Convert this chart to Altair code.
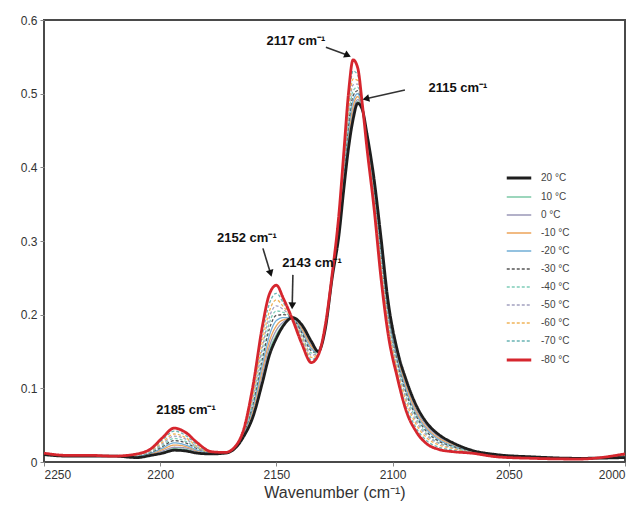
import altair as alt
import pandas as pd

# ---------------- data ----------------
wavenumber = [2250, 2240, 2230, 2220, 2210, 2204, 2199, 2194, 2189, 2184,
              2178, 2172, 2168, 2164, 2160, 2156, 2153, 2150, 2147, 2143,
              2139, 2135, 2132, 2129, 2126, 2123, 2121, 2119, 2117, 2115,
              2113, 2111, 2108, 2105, 2102, 2098, 2094, 2090, 2085, 2080,
              2074, 2066, 2055, 2040, 2020, 2000]

t_p20 = [0.010, 0.008, 0.008, 0.008, 0.006, 0.009, 0.012, 0.016, 0.015, 0.012,
         0.011, 0.012, 0.018, 0.035, 0.062, 0.108, 0.145, 0.168, 0.185, 0.196,
         0.186, 0.164, 0.150, 0.180, 0.250, 0.310, 0.370, 0.425, 0.465, 0.487,
         0.478, 0.445, 0.385, 0.305, 0.220, 0.152, 0.110, 0.078, 0.052, 0.037,
         0.026, 0.016, 0.010, 0.007, 0.005, 0.006]
t_p10 = [0.010, 0.008, 0.008, 0.008, 0.007, 0.010, 0.013, 0.018, 0.017, 0.013,
         0.011, 0.012, 0.018, 0.036, 0.065, 0.113, 0.151, 0.173, 0.187, 0.196,
         0.184, 0.162, 0.150, 0.180, 0.250, 0.312, 0.373, 0.430, 0.470, 0.489,
         0.478, 0.444, 0.382, 0.301, 0.217, 0.149, 0.107, 0.075, 0.050, 0.035,
         0.025, 0.016, 0.010, 0.007, 0.005, 0.007]
t_0 = [0.011, 0.008, 0.008, 0.008, 0.007, 0.011, 0.015, 0.020, 0.019, 0.014,
       0.012, 0.012, 0.018, 0.037, 0.068, 0.119, 0.157, 0.179, 0.190, 0.196,
       0.182, 0.159, 0.150, 0.181, 0.251, 0.314, 0.377, 0.436, 0.476, 0.492,
       0.479, 0.442, 0.379, 0.297, 0.213, 0.146, 0.103, 0.072, 0.048, 0.034,
       0.024, 0.015, 0.010, 0.007, 0.005, 0.007]
t_m10 = [0.010, 0.009, 0.008, 0.008, 0.008, 0.011, 0.017, 0.023, 0.021, 0.015,
         0.012, 0.012, 0.019, 0.038, 0.072, 0.126, 0.164, 0.185, 0.193, 0.195,
         0.180, 0.157, 0.149, 0.181, 0.251, 0.317, 0.382, 0.443, 0.483, 0.496,
         0.479, 0.441, 0.376, 0.292, 0.209, 0.143, 0.100, 0.069, 0.045, 0.032,
         0.023, 0.015, 0.009, 0.006, 0.005, 0.008]
t_m20 = [0.011, 0.008, 0.009, 0.008, 0.008, 0.012, 0.019, 0.026, 0.023, 0.016,
         0.012, 0.013, 0.019, 0.039, 0.076, 0.133, 0.172, 0.192, 0.196, 0.195,
         0.177, 0.154, 0.149, 0.182, 0.252, 0.320, 0.387, 0.450, 0.490, 0.500,
         0.480, 0.439, 0.372, 0.287, 0.205, 0.140, 0.096, 0.066, 0.043, 0.030,
         0.022, 0.015, 0.009, 0.006, 0.005, 0.008]
t_m30 = [0.011, 0.009, 0.008, 0.008, 0.009, 0.013, 0.021, 0.029, 0.026, 0.018,
         0.013, 0.012, 0.019, 0.040, 0.080, 0.141, 0.181, 0.199, 0.200, 0.195,
         0.175, 0.151, 0.148, 0.182, 0.252, 0.323, 0.392, 0.457, 0.497, 0.504,
         0.481, 0.437, 0.368, 0.281, 0.201, 0.136, 0.092, 0.063, 0.040, 0.028,
         0.021, 0.014, 0.009, 0.006, 0.005, 0.009]
t_m40 = [0.011, 0.009, 0.009, 0.008, 0.009, 0.014, 0.023, 0.032, 0.028, 0.019,
         0.013, 0.013, 0.019, 0.041, 0.084, 0.148, 0.189, 0.205, 0.203, 0.195,
         0.172, 0.148, 0.148, 0.183, 0.253, 0.326, 0.396, 0.464, 0.504, 0.509,
         0.481, 0.435, 0.364, 0.276, 0.197, 0.132, 0.088, 0.060, 0.037, 0.026,
         0.020, 0.014, 0.009, 0.006, 0.004, 0.009]
t_m50 = [0.012, 0.009, 0.009, 0.008, 0.010, 0.015, 0.025, 0.035, 0.031, 0.020,
         0.013, 0.013, 0.020, 0.042, 0.089, 0.156, 0.197, 0.212, 0.207, 0.194,
         0.170, 0.145, 0.147, 0.183, 0.253, 0.329, 0.401, 0.471, 0.512, 0.513,
         0.482, 0.433, 0.360, 0.271, 0.193, 0.129, 0.084, 0.056, 0.035, 0.025,
         0.019, 0.013, 0.008, 0.006, 0.004, 0.010]
t_m60 = [0.011, 0.009, 0.009, 0.008, 0.010, 0.016, 0.027, 0.038, 0.033, 0.021,
         0.013, 0.013, 0.020, 0.043, 0.093, 0.164, 0.205, 0.220, 0.211, 0.194,
         0.167, 0.142, 0.147, 0.184, 0.254, 0.332, 0.406, 0.478, 0.520, 0.518,
         0.483, 0.431, 0.356, 0.265, 0.188, 0.125, 0.080, 0.052, 0.032, 0.023,
         0.018, 0.013, 0.008, 0.005, 0.004, 0.010]
t_m70 = [0.012, 0.009, 0.009, 0.008, 0.011, 0.017, 0.030, 0.042, 0.036, 0.023,
         0.014, 0.013, 0.020, 0.044, 0.099, 0.174, 0.215, 0.229, 0.216, 0.194,
         0.164, 0.139, 0.146, 0.184, 0.254, 0.336, 0.413, 0.488, 0.531, 0.525,
         0.484, 0.428, 0.351, 0.258, 0.182, 0.120, 0.074, 0.047, 0.028, 0.020,
         0.016, 0.013, 0.008, 0.005, 0.004, 0.011]
t_m80 = [0.012, 0.009, 0.009, 0.008, 0.011, 0.018, 0.033, 0.046, 0.040, 0.026,
         0.014, 0.013, 0.020, 0.045, 0.105, 0.185, 0.228, 0.240, 0.222, 0.193,
         0.160, 0.135, 0.145, 0.185, 0.255, 0.340, 0.420, 0.500, 0.546, 0.535,
         0.485, 0.425, 0.345, 0.250, 0.175, 0.115, 0.068, 0.042, 0.024, 0.017,
         0.014, 0.012, 0.007, 0.005, 0.004, 0.011]

temps = ["20 °C", "10 °C", "0 °C", "-10 °C", "-20 °C", "-30 °C",
         "-40 °C", "-50 °C", "-60 °C", "-70 °C", "-80 °C"]
series = [t_p20, t_p10, t_0, t_m10, t_m20, t_m30, t_m40, t_m50, t_m60, t_m70, t_m80]

# annotations (data units)
ann_text = ["2117 cm⁻¹", "2115 cm⁻¹", "2152 cm⁻¹", "2143 cm⁻¹", "2185 cm⁻¹"]
ann_x = [2141.6, 2071.9, 2162.7, 2134.7, 2188.9]
ann_y = [0.571, 0.508, 0.304, 0.270, 0.071]

arr_x1 = [2128.7, 2094.7, 2155.8, 2142.9]
arr_y1 = [0.563, 0.505, 0.290, 0.254]
arr_x2 = [2119.3, 2111.5, 2152.5, 2143.2]
arr_y2 = [0.552, 0.493, 0.256, 0.212]
arr_angle = [25, 167, 74, 92]

# ---------------- styles ----------------
colors = ["#1e1e1e", "#7cc9a6", "#9a98b8", "#eda45a", "#72aed6", "#555555",
          "#7fcdb8", "#a3a1c0", "#f0b45a", "#6ab4b4", "#d6262e"]
dashes = [[1, 0], [1, 0], [1, 0], [1, 0], [1, 0], [3, 2],
          [3, 2], [3, 2], [3, 2], [3, 2], [1, 0]]
widths = [2.8, 1.3, 1.3, 1.3, 1.3, 1.3, 1.3, 1.3, 1.3, 1.3, 2.8]

rows = []
for t, vals in zip(temps, series):
    for w, v in zip(wavenumber, vals):
        rows.append({"wn": w, "a": v, "temp": t})
df = pd.DataFrame(rows)

xenc = alt.X("wn:Q", title="Wavenumber (cm⁻¹)",
             scale=alt.Scale(domain=[2000, 2250], reverse=True, nice=False, zero=False),
             axis=alt.Axis(values=[2250, 2200, 2150, 2100, 2050, 2000], format="d"))
yenc = alt.Y("a:Q", title=None,
             scale=alt.Scale(domain=[0, 0.6], nice=False),
             axis=alt.Axis(values=[0, 0.1, 0.2, 0.3, 0.4, 0.5, 0.6], format="~g"))

enc = dict(
    x=xenc, y=yenc,
    color=alt.Color("temp:N", title=None, scale=alt.Scale(domain=temps, range=colors)),
    strokeDash=alt.StrokeDash("temp:N", title=None, scale=alt.Scale(domain=temps, range=dashes)),
    strokeWidth=alt.StrokeWidth("temp:N", title=None,
                                scale=alt.Scale(type="ordinal", domain=temps, range=widths)),
)

base = alt.Chart(df).mark_line(interpolate="monotone").encode(**enc)
mid = base.transform_filter(alt.FieldOneOfPredicate(field="temp", oneOf=temps[1:10]))
black = base.transform_filter(alt.FieldEqualPredicate(field="temp", equal=temps[0]))
red = base.transform_filter(alt.FieldEqualPredicate(field="temp", equal=temps[10]))

ann_df = pd.DataFrame({"label": ann_text, "x": ann_x, "y": ann_y})
arr_df = pd.DataFrame({"x1": arr_x1, "y1": arr_y1, "x2": arr_x2, "y2": arr_y2, "ang": arr_angle})

texts = alt.Chart(ann_df).mark_text(fontWeight="bold", fontSize=13, font="Liberation Sans",
                                    color="#111").encode(
    x="x:Q", y="y:Q", text="label:N")
rules = alt.Chart(arr_df).mark_rule(color="#333", strokeWidth=1.6).encode(
    x="x1:Q", y="y1:Q", x2="x2:Q", y2="y2:Q")
heads = alt.Chart(arr_df).mark_point(shape="triangle-right", filled=True, size=60,
                                     color="#111", opacity=1).encode(
    x="x2:Q", y="y2:Q", angle=alt.Angle("ang:Q", scale=None))

chart = alt.layer(mid, black, red, rules, heads, texts).properties(
    width=581, height=442,
    autosize=alt.AutoSizeParams(type="none"),
    padding={"left": 36, "top": 12, "right": 8, "bottom": 42},
).configure_view(
    stroke="#4a4a4a", strokeWidth=2
).configure_axis(
    grid=False, domain=False, labelFont="Liberation Sans", titleFont="Liberation Sans",
    labelFontSize=12, labelColor="#333", tickColor="#888", tickSize=4,
    titleFontSize=16, titleFontWeight="normal", titleColor="#333", labelPadding=3
).configure_legend(
    orient="none", legendX=461, legendY=144, symbolType="stroke",
    symbolSize=600, labelFontSize=10, labelFont="Liberation Sans", labelColor="#444",
    rowPadding=-6, labelOffset=8, padding=0
)

chart.save("out.html", embed_options={"renderer": "svg", "actions": False})
